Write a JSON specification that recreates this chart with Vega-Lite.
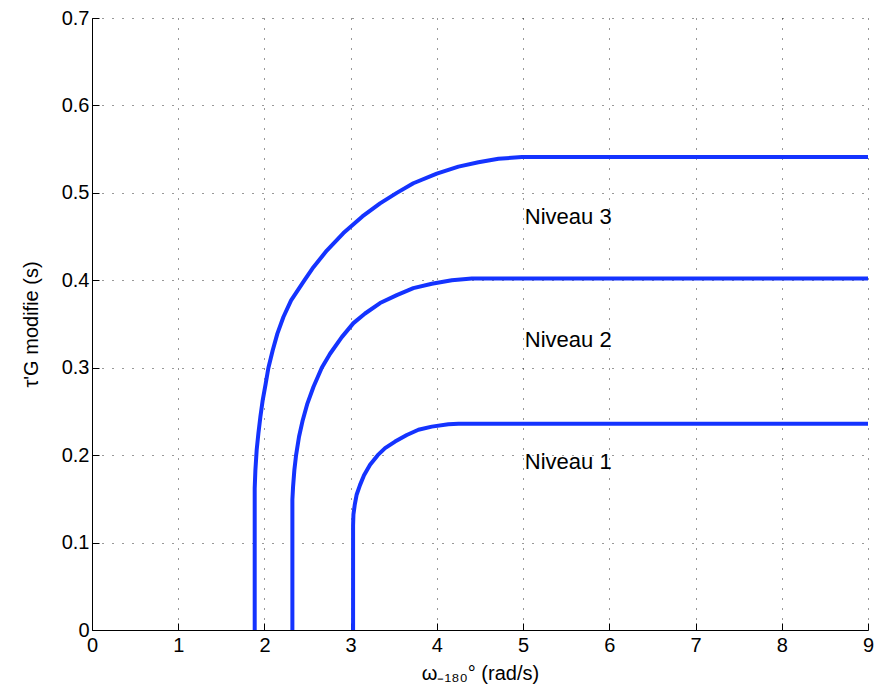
{
  "$schema": "https://vega.github.io/schema/vega-lite/v6.json",
  "width": 776,
  "height": 612,
  "autosize": {"type": "none"},
  "padding": {"left": 92, "top": 18, "right": 9, "bottom": 62},
  "background": "white",
  "config": {
    "view": {"stroke": null},
    "font": "Liberation Sans",
    "axis": {
      "domainColor": "#000",
      "domainWidth": 1,
      "tickColor": "#000",
      "tickSize": -7,
      "tickWidth": 1,
      "labelFlush": false,
      "gridColor": "#000",
      "gridDash": [1, 9],
      "gridOpacity": 0.8,
      "gridWidth": 1,
      "labelFont": "Liberation Sans",
      "labelFontSize": 20,
      "labelColor": "#000",
      "titleFont": "Liberation Sans",
      "titleFontSize": 20,
      "titleFontWeight": "normal",
      "titleColor": "#000"
    }
  },
  "datasets": {
    "curves": [
      {"serie": "Niveau 3", "o": 1, "w": 1.887, "tau": 0},
      {"serie": "Niveau 3", "o": 2, "w": 1.887, "tau": 0.162},
      {"serie": "Niveau 3", "o": 3, "w": 1.895, "tau": 0.183},
      {"serie": "Niveau 3", "o": 4, "w": 1.91, "tau": 0.206},
      {"serie": "Niveau 3", "o": 5, "w": 1.93, "tau": 0.225},
      {"serie": "Niveau 3", "o": 6, "w": 1.953, "tau": 0.244},
      {"serie": "Niveau 3", "o": 7, "w": 1.98, "tau": 0.263},
      {"serie": "Niveau 3", "o": 8, "w": 2.015, "tau": 0.282},
      {"serie": "Niveau 3", "o": 9, "w": 2.046, "tau": 0.3},
      {"serie": "Niveau 3", "o": 10, "w": 2.096, "tau": 0.32},
      {"serie": "Niveau 3", "o": 11, "w": 2.15, "tau": 0.339},
      {"serie": "Niveau 3", "o": 12, "w": 2.22, "tau": 0.358},
      {"serie": "Niveau 3", "o": 13, "w": 2.309, "tau": 0.377},
      {"serie": "Niveau 3", "o": 14, "w": 2.463, "tau": 0.4},
      {"serie": "Niveau 3", "o": 15, "w": 2.568, "tau": 0.415},
      {"serie": "Niveau 3", "o": 16, "w": 2.723, "tau": 0.434},
      {"serie": "Niveau 3", "o": 17, "w": 2.916, "tau": 0.454},
      {"serie": "Niveau 3", "o": 18, "w": 3.136, "tau": 0.473},
      {"serie": "Niveau 3", "o": 19, "w": 3.341, "tau": 0.488},
      {"serie": "Niveau 3", "o": 20, "w": 3.535, "tau": 0.5},
      {"serie": "Niveau 3", "o": 21, "w": 3.727, "tau": 0.511},
      {"serie": "Niveau 3", "o": 22, "w": 3.999, "tau": 0.522},
      {"serie": "Niveau 3", "o": 23, "w": 4.25, "tau": 0.53},
      {"serie": "Niveau 3", "o": 24, "w": 4.482, "tau": 0.535},
      {"serie": "Niveau 3", "o": 25, "w": 4.714, "tau": 0.539},
      {"serie": "Niveau 3", "o": 26, "w": 4.985, "tau": 0.541},
      {"serie": "Niveau 3", "o": 27, "w": 9, "tau": 0.541},
      {"serie": "Niveau 2", "o": 1, "w": 2.324, "tau": 0},
      {"serie": "Niveau 2", "o": 2, "w": 2.324, "tau": 0.149},
      {"serie": "Niveau 2", "o": 3, "w": 2.332, "tau": 0.164},
      {"serie": "Niveau 2", "o": 4, "w": 2.347, "tau": 0.183},
      {"serie": "Niveau 2", "o": 5, "w": 2.367, "tau": 0.2},
      {"serie": "Niveau 2", "o": 6, "w": 2.401, "tau": 0.221},
      {"serie": "Niveau 2", "o": 7, "w": 2.444, "tau": 0.24},
      {"serie": "Niveau 2", "o": 8, "w": 2.498, "tau": 0.259},
      {"serie": "Niveau 2", "o": 9, "w": 2.568, "tau": 0.278},
      {"serie": "Niveau 2", "o": 10, "w": 2.665, "tau": 0.3},
      {"serie": "Niveau 2", "o": 11, "w": 2.761, "tau": 0.316},
      {"serie": "Niveau 2", "o": 12, "w": 2.897, "tau": 0.335},
      {"serie": "Niveau 2", "o": 13, "w": 3.032, "tau": 0.351},
      {"serie": "Niveau 2", "o": 14, "w": 3.167, "tau": 0.362},
      {"serie": "Niveau 2", "o": 15, "w": 3.341, "tau": 0.374},
      {"serie": "Niveau 2", "o": 16, "w": 3.535, "tau": 0.383},
      {"serie": "Niveau 2", "o": 17, "w": 3.727, "tau": 0.391},
      {"serie": "Niveau 2", "o": 18, "w": 3.941, "tau": 0.396},
      {"serie": "Niveau 2", "o": 19, "w": 4.173, "tau": 0.4},
      {"serie": "Niveau 2", "o": 20, "w": 4.405, "tau": 0.402},
      {"serie": "Niveau 2", "o": 21, "w": 9, "tau": 0.402},
      {"serie": "Niveau 1", "o": 1, "w": 3.028, "tau": 0},
      {"serie": "Niveau 1", "o": 2, "w": 3.028, "tau": 0.12},
      {"serie": "Niveau 1", "o": 3, "w": 3.032, "tau": 0.132},
      {"serie": "Niveau 1", "o": 4, "w": 3.047, "tau": 0.143},
      {"serie": "Niveau 1", "o": 5, "w": 3.07, "tau": 0.155},
      {"serie": "Niveau 1", "o": 6, "w": 3.109, "tau": 0.166},
      {"serie": "Niveau 1", "o": 7, "w": 3.155, "tau": 0.177},
      {"serie": "Niveau 1", "o": 8, "w": 3.225, "tau": 0.189},
      {"serie": "Niveau 1", "o": 9, "w": 3.314, "tau": 0.2},
      {"serie": "Niveau 1", "o": 10, "w": 3.399, "tau": 0.208},
      {"serie": "Niveau 1", "o": 11, "w": 3.515, "tau": 0.2155},
      {"serie": "Niveau 1", "o": 12, "w": 3.651, "tau": 0.223},
      {"serie": "Niveau 1", "o": 13, "w": 3.786, "tau": 0.229},
      {"serie": "Niveau 1", "o": 14, "w": 3.941, "tau": 0.2326},
      {"serie": "Niveau 1", "o": 15, "w": 4.133, "tau": 0.2353},
      {"serie": "Niveau 1", "o": 16, "w": 4.25, "tau": 0.236},
      {"serie": "Niveau 1", "o": 17, "w": 9, "tau": 0.236}
    ],
    "labels": [
      {"label": "Niveau 3", "w": 5.02, "tau": 0.472},
      {"label": "Niveau 2", "w": 5.02, "tau": 0.332},
      {"label": "Niveau 1", "w": 5.02, "tau": 0.192}
    ]
  },
  "layer": [
    {
      "data": {"name": "curves"},
      "mark": {"type": "line", "color": "#1433ff", "strokeWidth": 4, "interpolate": "linear", "strokeJoin": "round", "clip": true},
      "encoding": {
        "x": {
          "field": "w", "type": "quantitative",
          "scale": {"domain": [0, 9], "nice": false, "zero": false},
          "axis": {"values": [0,1,2,3,4,5,6,7,8,9], "format": "d", "title": "ω₋₁₈₀° (rad/s)", "labelPadding": 12, "titlePadding": 8}
        },
        "y": {
          "field": "tau", "type": "quantitative",
          "scale": {"domain": [0, 0.7], "nice": false},
          "axis": {"values": [0,0.1,0.2,0.3,0.4,0.5,0.6,0.7], "format": "~g", "title": "τ'G modifie (s)", "labelPadding": 10, "titlePadding": 20}
        },
        "detail": {"field": "serie"},
        "order": {"field": "o"}
      }
    },
    {
      "data": {"name": "labels"},
      "mark": {"type": "text", "align": "left", "baseline": "middle", "fontSize": 22, "font": "Liberation Sans", "color": "#000"},
      "encoding": {
        "x": {"field": "w", "type": "quantitative"},
        "y": {"field": "tau", "type": "quantitative"},
        "text": {"field": "label"}
      }
    }
  ]
}
